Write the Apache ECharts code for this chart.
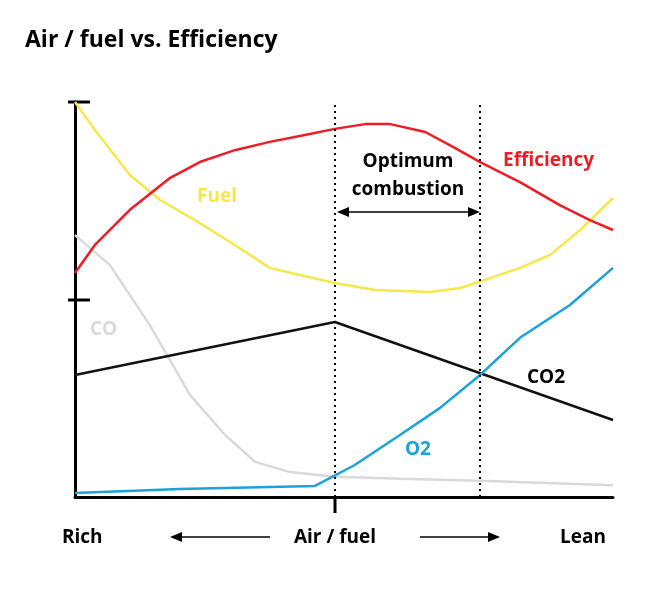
<!DOCTYPE html>
<html><head><meta charset="utf-8">
<script src="https://cdn.jsdelivr.net/npm/echarts@6/dist/echarts.min.js"></script>
<style>html,body{margin:0;padding:0;background:#fff}#main{width:660px;height:591px}</style>
</head><body><div id="main"></div>
<script>
// curves, x: rich(0) -> lean(100), y: 0..100
var efficiency = [[0,56.7],[3.7,63.8],[10.2,72.7],[17.7,80.8],[23.2,84.8],[29.7,87.8],[36.2,89.9],[41.8,91.4],[48.3,93.2],[53.9,94.4],[58.6,94.4],[65.1,92.4],[70.6,88.4],[75.3,84.8],[82.7,79.7],[90.1,73.9],[95.7,70.1],[100,67.6]];
var fuel = [[0,100],[3.7,92.9],[10.2,81.5],[15.8,75.2],[22.3,70.1],[29.7,63.8],[36.2,58],[41.8,56.2],[48.3,54.2],[55.8,52.4],[66,51.9],[71.6,52.9],[77.1,55.4],[82.7,58],[88.3,61.3],[93.9,67.6],[100,75.7]];
var co = [[0,66.3],[6.5,58.7],[13.9,43.5],[21.4,25.8],[27.9,15.7],[33.5,8.9],[40,6.3],[48.3,5.1],[60.4,4.6],[75.3,4.1],[100,3]];
var co2 = [[0,30.9],[48.3,44.3],[100,19.5]];
var o2 = [[0,1],[19.5,2],[44.6,2.8],[52,8.1],[60.4,15.7],[67.8,22.5],[75.3,30.9],[82.7,40.3],[92,48.6],[100,58]];
var optimumBounds = [48.3, 75.3];

var font = '"Open Sans", sans-serif';
function lbl(x, y, t, c, align) {
  return {type:'text', left:null, x:x, y:y, style:{text:t, fill:c, font:'bold 19px ' + font, textAlign:align||'left', textVerticalAlign:'middle'}};
}
function ln(x1,y1,x2,y2,w){return {type:'line', shape:{x1:x1,y1:y1,x2:x2,y2:y2}, style:{stroke:'#000', lineWidth:w||1.5}};}
function head(x,y,dir){return {type:'polygon', shape:{points:[[x,y],[x-12*dir,y-5],[x-12*dir,y+5]]}, style:{fill:'#000'}};}
function line(name, data, color, extra) {
  var s = {name:name, type:'line', data:data, symbol:'none', smooth:false, lineStyle:{color:color, width:2.5}, z:3};
  for (var k in extra) s[k] = extra[k];
  return s;
}

var chart = echarts.init(document.getElementById('main'));
chart.setOption({
  animation:false,
  grid:{left:75, right:47, top:102, bottom:94},
  xAxis:{type:'value', min:0, max:100, axisLine:{lineStyle:{color:'#000', width:3}}, axisTick:{show:false}, axisLabel:{show:false}, splitLine:{show:false}},
  yAxis:{type:'value', min:0, max:100, axisLine:{show:true, lineStyle:{color:'#000', width:3}}, axisTick:{show:false}, axisLabel:{show:false}, splitLine:{show:false}},
  series:[
    line('CO', co, '#d9d9d9'),
    line('CO2', co2, '#111'),
    line('Fuel', fuel, '#f7e84a'),
    line('Efficiency', efficiency, '#ee1c25'),
    line('O2', o2, '#1ba1dc', {markLine:{silent:true, symbol:'none', label:{show:false},
      lineStyle:{color:'#000', type:[2,4], width:2}, data:optimumBounds.map(function(v){return {xAxis:v};})}})
  ],
  graphic:[
    {type:'text', x:25, y:40, style:{text:'Air / fuel vs. Efficiency', fill:'#000', font:'bold 23px ' + font, textVerticalAlign:'middle'}},
    lbl(197,197,'Fuel','#f7e84a'),
    lbl(503,161,'Efficiency','#ee1c25'),
    lbl(90,330,'CO','#d9d9d9'),
    lbl(527,378,'CO2','#000'),
    lbl(405,450,'O2','#1ba1dc'),
    lbl(408,162,'Optimum','#000','center'),
    lbl(408,190,'combustion','#000','center'),
    ln(345,212,472,212), head(480,212,1), head(337,212,-1),
    lbl(62,538,'Rich','#000'),
    lbl(335,538,'Air / fuel','#000','center'),
    lbl(583,538,'Lean','#000','center'),
    ln(180,537,270,537), head(170,537,-1),
    ln(420,537,490,537), head(500,537,1),
    ln(68,102,90,102,3), ln(68,300,90,300,3), ln(335,497,335,513,3)
  ]
});
</script></body></html>
